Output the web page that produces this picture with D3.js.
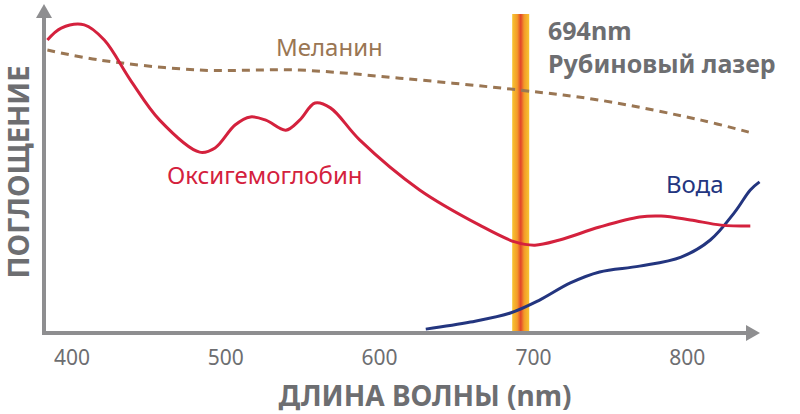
<!DOCTYPE html>
<html><head><meta charset="utf-8">
<script src="https://cdn.jsdelivr.net/npm/d3@7"></script>
<style>body{margin:0;background:#fff}text{font-family:"Noto Sans",sans-serif}</style>
</head><body><svg width="800" height="414"></svg>
<script>
// wavelength (nm) / absorbance (arbitrary 0..100)
const oxyNm = [384, 393, 408, 421, 438, 457, 483, 493, 506, 516, 526, 539, 548, 558, 568, 587, 626, 665, 688, 701, 717, 743, 769, 783, 802, 822, 841];
const oxyVal = [90.7, 94.4, 95.4, 90.7, 78.3, 65.9, 56.0, 57.3, 64.4, 66.9, 65.9, 62.8, 65.9, 71.2, 69.7, 59.8, 44.3, 33.4, 28.2, 27.2, 28.8, 32.8, 35.9, 36.2, 35.0, 33.4, 33.1];
const melNm = [384, 418, 483, 548, 613, 691, 743, 809, 840];
const melVal = [87.6, 84.5, 81.4, 81.4, 78.9, 75.2, 72.1, 65.9, 62.2];
const waterNm = [630, 659, 685, 704, 724, 743, 769, 796, 815, 831, 841, 847];
const waterVal = [1.2, 3.4, 6.2, 10.2, 15.5, 18.9, 20.7, 23.5, 28.8, 37.5, 44.3, 46.8];
const xTicks = [400, 500, 600, 700, 800];
const laserNm = 694;

const svg = d3.select("svg");
const x = d3.scaleLinear().domain([381.8, 846]).range([44, 758]);
const y = d3.scaleLinear().domain([0, 100]).range([333, 10]);
const gray = "#8e8e90";

const grad = svg.append("defs").append("linearGradient").attr("id", "laser");
[["0%", "#f7c531"], ["30%", "#f39a2a"], ["50%", "#e2452a"], ["70%", "#f39a2a"], ["100%", "#f7c531"]]
  .forEach(([o, c]) => grad.append("stop").attr("offset", o).attr("stop-color", c));
svg.append("rect").attr("x", x(laserNm) - 12).attr("width", 17)
  .attr("y", 14).attr("height", 333 - 14).attr("fill", "url(#laser)");

// axes
svg.append("line").attr("x1", 44).attr("x2", 44).attr("y1", 333).attr("y2", 16)
  .attr("stroke", gray).attr("stroke-width", 4);
svg.append("line").attr("x1", 42).attr("x2", 748).attr("y1", 333).attr("y2", 333)
  .attr("stroke", gray).attr("stroke-width", 4);
svg.append("path").attr("d", "M44,4 L36,18 L52,18 Z").attr("fill", gray);
svg.append("path").attr("d", "M760,333 L746,325 L746,341 Z").attr("fill", gray);

svg.selectAll(".tick").data(xTicks).join("text")
  .attr("x", d => x(d)).attr("y", 365).attr("text-anchor", "middle")
  .attr("font-size", 21).attr("fill", "#6d6e71").text(d => d);

const line = d3.line().x(d => x(d[0])).y(d => y(d[1])).curve(d3.curveCatmullRom);
const draw = (nm, v, color, extra) => {
  const p = svg.append("path").attr("d", line(d3.zip(nm, v))).attr("fill", "none")
    .attr("stroke", color).attr("stroke-width", 3);
  if (extra) p.attr("stroke-dasharray", extra);
};
draw(melNm, melVal, "#9a7653", "8,6");
draw(waterNm, waterVal, "#23357f");
draw(oxyNm, oxyVal, "#d4213d");

const label = (t, px, py, color, size, weight) => svg.append("text").attr("x", px).attr("y", py)
  .attr("fill", color).attr("font-size", size).attr("font-weight", weight || "normal").text(t);
label("Меланин", 276, 56, "#9a7653", 24);
label("Оксигемоглобин", 167, 184, "#d4213d", 24);
label("Вода", 666, 193, "#23357f", 24);
label("694nm", 548, 40, "#6d6e71", 25, "bold");
label("Рубиновый лазер", 548, 73, "#6d6e71", 25, "bold");

svg.append("text").attr("transform", "translate(29,172) rotate(-90)").attr("text-anchor", "middle")
  .attr("font-size", 29).attr("font-weight", "bold").attr("fill", "#6d6e71").text("ПОГЛОЩЕНИЕ");
svg.append("text").attr("x", 425).attr("y", 406).attr("text-anchor", "middle")
  .attr("font-size", 28).attr("font-weight", "bold").attr("fill", "#6d6e71").text("ДЛИНА ВОЛНЫ (nm)");
</script></body></html>
